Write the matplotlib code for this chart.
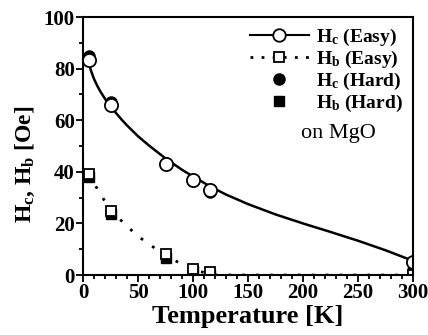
import numpy as np
import matplotlib.pyplot as plt
from matplotlib.ticker import MultipleLocator

# Data
temp = [5, 25, 75, 100, 115, 300]
hc_easy = [83.5, 66, 43, 37, 33, 5]
hb_easy = [39, 25, 8, 2.5, 1, 0]
hc_hard = [85, 67, 43.5, 36.5, 32, 2]
hb_hard = [38, 23.5, 6.5, 1.5, 0, 0.5]

# guide-to-eye curves as drawn in the figure
t_fit_c = [5, 7, 10, 13, 16, 20, 25, 30, 35, 40, 50, 60, 75, 90, 100, 115, 130, 150, 175, 200, 225, 250, 275, 300]
h_fit_c = [83, 79.5, 76, 73.3, 71, 68.3, 65.5, 62.8, 60.3, 58, 53.8, 50.2, 45.2, 40.8, 38.2, 34.5, 31.2, 27.5, 23.5, 20, 16.7, 13.3, 9.6, 5.5]
t_fit_b = [5, 25, 50, 75, 100, 120, 300]
h_fit_b = [39, 25, 15, 7.5, 2, 0, 0]

plt.rcParams['font.family'] = ['Liberation Serif', 'DejaVu Serif']
plt.rcParams['font.weight'] = 'bold'
plt.rcParams['axes.labelweight'] = 'bold'
plt.rcParams['mathtext.fontset'] = 'custom'
plt.rcParams['mathtext.rm'] = 'Liberation Serif:bold'
plt.rcParams['mathtext.it'] = 'Liberation Serif:bold'

fig = plt.figure(figsize=(4.28, 3.35), dpi=100)
ax = fig.add_axes([0.194, 0.179, 0.771, 0.77])

ax.plot(t_fit_c, h_fit_c, '-', color='black', lw=1.8)
ax.plot(t_fit_b, h_fit_b, color='black', lw=2, linestyle=(0, (1, 4)))

ax.plot(temp, hc_hard, 'o', color='black', ms=8)
ax.plot(temp, hb_hard, 's', color='black', ms=7)
ax.plot(temp, hc_easy, 'o', mfc='white', mec='black', mew=1.3, ms=9.5)
ax.plot(temp, hb_easy, 's', mfc='white', mec='black', mew=1.3, ms=7)

# legend handles
h1, = ax.plot([], [], '-o', color='black', mfc='white', mew=1.3, ms=9, lw=1.5)
h2, = ax.plot([], [], 's', color='black', mfc='white', mew=1.3, ms=7, lw=2,
              linestyle=(0, (1, 3)))
h3, = ax.plot([], [], 'o', color='black', ms=8)
h4, = ax.plot([], [], 's', color='black', ms=7)
ax.legend([h1, h2, h3, h4],
          [r'H$_\mathregular{c}$ (Easy)', r'H$_\mathregular{b}$ (Easy)',
           r'H$_\mathregular{c}$ (Hard)', r'H$_\mathregular{b}$ (Hard)'],
          loc='upper right', frameon=False, fontsize=14, handlelength=3,
          handletextpad=0.4, labelspacing=0.05, borderaxespad=0.1)

ax.text(232, 55, 'on MgO', fontsize=16, fontweight='normal', ha='center', va='center')

ax.set_xlim(0, 300)
ax.set_ylim(0, 100)
ax.xaxis.set_major_locator(MultipleLocator(50))
ax.xaxis.set_minor_locator(MultipleLocator(10))
ax.yaxis.set_major_locator(MultipleLocator(20))
ax.yaxis.set_minor_locator(MultipleLocator(10))
ax.tick_params(which='both', direction='out', width=1.3, labelsize=15, pad=1)
ax.tick_params(which='major', length=5)
ax.tick_params(which='minor', length=3)
for s in ax.spines.values():
    s.set_linewidth(1.5)

ax.set_xlabel('Temperature [K]', fontsize=19, labelpad=1)
ax.set_ylabel(r'H$_\mathregular{c}$, H$_\mathregular{b}$ [Oe]', fontsize=17)
ax.yaxis.set_label_coords(-0.14, 0.43)

fig.savefig('out.png', dpi=100)
